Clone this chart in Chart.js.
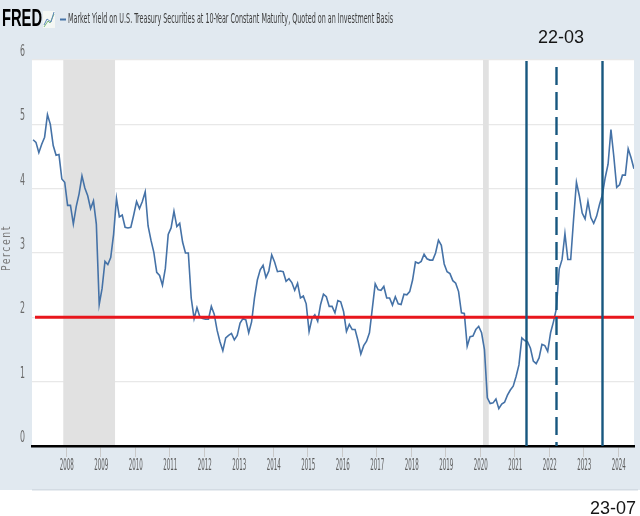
<!DOCTYPE html>
<html><head><meta charset="utf-8">
<script src="https://cdn.jsdelivr.net/npm/chart.js@4.4.1/dist/chart.umd.min.js"></script>
<style>html,body{margin:0;padding:0;background:#fff;}#wrap{width:640px;height:516px;position:relative;}</style>
</head><body><div id="wrap"><canvas id="c" width="640" height="516"></canvas></div>
<script>
// Monthly 10-year Treasury yield (percent), Jan 2007 .. Jun 2024
const startYear = 2007;
const yields = [
  4.76,4.72,4.56,4.69,4.80,5.15,5.00,4.67,4.52,4.53,4.15,4.10,
  3.74,3.74,3.45,3.72,3.92,4.20,4.01,3.89,3.69,3.81,3.45,2.20,
  2.45,2.87,2.82,2.93,3.29,3.85,3.56,3.59,3.40,3.39,3.40,3.59,
  3.80,3.69,3.80,3.95,3.42,3.20,3.01,2.70,2.65,2.50,2.76,3.29,
  3.39,3.65,3.41,3.46,3.17,3.00,3.00,2.30,1.98,2.15,2.01,1.98,
  1.97,1.97,2.17,2.05,1.80,1.62,1.48,1.68,1.72,1.75,1.65,1.72,
  1.91,1.98,1.96,1.76,1.93,2.30,2.58,2.74,2.81,2.62,2.72,2.97,
  2.86,2.71,2.72,2.71,2.56,2.60,2.54,2.42,2.53,2.30,2.33,2.21,
  1.78,1.98,2.04,1.94,2.20,2.36,2.32,2.17,2.17,2.07,2.26,2.24,
  2.09,1.78,1.89,1.81,1.81,1.64,1.43,1.56,1.63,1.76,2.14,2.52,
  2.43,2.42,2.48,2.30,2.30,2.19,2.32,2.21,2.20,2.36,2.35,2.40,
  2.58,2.86,2.84,2.87,2.98,2.91,2.89,2.89,3.00,3.20,3.12,2.83,
  2.71,2.68,2.57,2.53,2.40,2.07,2.06,1.55,1.70,1.71,1.81,1.86,
  1.76,1.50,0.75,0.66,0.67,0.73,0.58,0.65,0.68,0.79,0.87,0.93,
  1.08,1.26,1.68,1.64,1.62,1.52,1.32,1.28,1.37,1.58,1.56,1.47,
  1.76,1.93,2.13,2.75,2.90,3.30,2.90,2.90,3.52,4.10,3.89,3.62,
  3.53,3.80,3.55,3.46,3.57,3.75,3.90,4.17,4.38,4.92,4.50,4.02,
  4.06,4.21,4.21,4.62,4.48,4.31
];
const xTicks = [2008,2009,2010,2011,2012,2013,2014,2015,2016,2017,2018,2019,2020,2021,2022,2023,2024];
const yTicks = [0,1,2,3,4,5,6];
const recessions = [[2007.917,2009.417],[2020.083,2020.25]];
const refLevel = 2.0;
const markerDates = [2021.33, 2022.21, 2023.54];
const markerDashed = [false, true, false];
const markerTexts = ['22-03', '23-07'];
const seriesTitle = 'Market Yield on U.S. Treasury Securities at 10-Year Constant Maturity, Quoted on an Investment Basis';

const points = yields.map((v,i)=>({x: startYear + (i+0.5)/12, y: v}));
const NARROW = '"Liberation Sans Narrow","DejaVu Sans Condensed",sans-serif';

const decor = {
  id:'decor',
  beforeDraw(chart){
    const {ctx, chartArea:a} = chart;
    ctx.save();
    ctx.fillStyle='#ffffff'; ctx.fillRect(0,0,640,516);
    ctx.fillStyle='#e1e9f0'; ctx.fillRect(0,0,640,490);
    ctx.fillStyle='#d3dbe3'; ctx.fillRect(32,489,606,1.5);
    ctx.fillStyle='#ffffff'; ctx.fillRect(a.left,a.top,a.right-a.left,a.bottom-a.top);
    // header
    ctx.fillStyle='#000';
    ctx.font='bold 24px "Liberation Sans",Arial,sans-serif';
    ctx.textBaseline='alphabetic'; ctx.textAlign='left';
    ctx.fillText('FRED',2,26,40);
    // small icon
    ctx.fillStyle='#f4f7f4'; ctx.fillRect(43,11,12,17);
    ctx.strokeStyle='#7ab87a'; ctx.lineWidth=1;
    ctx.beginPath(); ctx.moveTo(44,27); ctx.lineTo(48,21); ctx.lineTo(50,23); ctx.lineTo(54,14); ctx.stroke();
    ctx.strokeStyle='#5a86b8';
    ctx.beginPath(); ctx.moveTo(44,25); ctx.lineTo(47,19); ctx.lineTo(51,22); ctx.lineTo(54,12); ctx.stroke();
    ctx.strokeStyle='#4572a7'; ctx.lineWidth=2;
    ctx.beginPath(); ctx.moveTo(60,19.5); ctx.lineTo(66,19.5); ctx.stroke();
    ctx.fillStyle='#3c3c3c';
    ctx.font='14px '+NARROW;
    ctx.textBaseline='middle';
    ctx.fillText(seriesTitle,68,19.5,325);
    // y title
    ctx.save();
    ctx.translate(7,248); ctx.rotate(-Math.PI/2);
    ctx.fillStyle='#7a7a7a'; ctx.font='13px '+NARROW; ctx.textAlign='center';
    try{ctx.letterSpacing='2px';}catch(e){}
    ctx.fillText('Percent',0,0,46);
    ctx.restore();
    ctx.restore();
  },
  beforeDatasetsDraw(chart){
    const {ctx, chartArea:a, scales:{x}} = chart;
    ctx.save();
    ctx.fillStyle='#e1e1e1';
    recessions.forEach(([s,e])=>{
      const x0=x.getPixelForValue(s), x1=x.getPixelForValue(e);
      ctx.fillRect(x0,a.top,x1-x0,a.bottom-a.top-1);
    });
    ctx.restore();
  },
  afterDatasetsDraw(chart){
    const {ctx, chartArea:a, scales:{x,y}} = chart;
    ctx.save();
    const yr = y.getPixelForValue(refLevel);
    ctx.strokeStyle='#e8161c'; ctx.lineWidth=3;
    ctx.beginPath(); ctx.moveTo(35,yr); ctx.lineTo(a.right,yr); ctx.stroke();
    ctx.strokeStyle='#17577f'; ctx.lineWidth=2.4;
    markerDates.forEach((d,i)=>{
      const px = Math.round(x.getPixelForValue(d))+0.5;
      ctx.setLineDash(markerDashed[i]?[18,7]:[]);
      ctx.beginPath();
      ctx.moveTo(px, markerDashed[i]? a.top+7 : a.top+1);
      ctx.lineTo(px, a.bottom);
      ctx.stroke();
    });
    ctx.setLineDash([]);
    ctx.restore();
  },
  afterDraw(chart){
    const {ctx, scales:{x,y}} = chart;
    ctx.save();
    ctx.textAlign='center'; ctx.textBaseline='middle';
    ctx.fillStyle='#5a5a5a';
    ctx.font='16px '+NARROW;
    x.ticks.forEach(t=>{
      ctx.fillText(String(t.value), x.getPixelForValue(t.value)+0.5, 466, 14);
    });
    ctx.fillStyle='#6a6a6a';
    ctx.font='15px '+NARROW;
    y.ticks.forEach(t=>{
      ctx.fillText(String(t.value), 22.5, y.getPixelForValue(t.value)-8, 5);
    });
    ctx.fillStyle='#151515';
    ctx.font='18px "Liberation Sans",Arial,sans-serif';
    ctx.textBaseline='alphabetic';
    ctx.fillText(markerTexts[0], 561, 43);
    ctx.fillText(markerTexts[1], 613, 514);
    ctx.restore();
  }
};

new Chart(document.getElementById('c'), {
  type:'line',
  data:{datasets:[{data:points, borderColor:'#4572a7', borderWidth:1.6, pointRadius:0, tension:0, fill:false}]},
  options:{
    responsive:false, animation:false,
    layout:{padding:{left:0,right:6,top:60,bottom:0}},
    plugins:{legend:{display:false}, tooltip:{enabled:false}},
    scales:{
      x:{type:'linear', min:2007.01, max:2024.46,
        afterBuildTicks:s=>{s.ticks = xTicks.map(v=>({value:v}));},
        afterFit:s=>{s.height=70;},
        grid:{display:true, drawOnChartArea:false, drawTicks:true, tickLength:11, color:'#c9c9c9', lineWidth:1},
        border:{display:true, color:'#000', width:2.6},
        ticks:{display:false}
      },
      y:{type:'linear', min:0, max:6,
        afterBuildTicks:s=>{s.ticks = yTicks.map(v=>({value:v}));},
        afterFit:s=>{s.width=32;},
        grid:{color:'#e8e8e8', drawTicks:false, lineWidth:1.3},
        border:{display:false},
        ticks:{display:false}
      }
    }
  },
  plugins:[decor]
});
</script></body></html>
